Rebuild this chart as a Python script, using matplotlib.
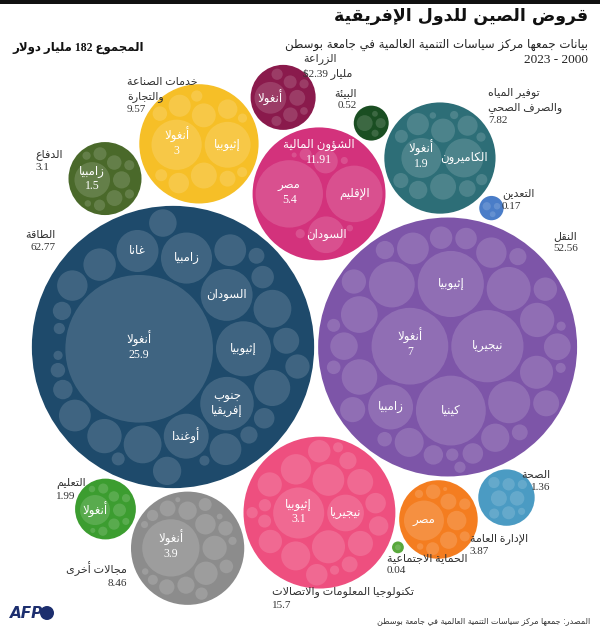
import re
import numpy as np
import matplotlib
matplotlib.use('Agg')
import matplotlib.pyplot as plt
from matplotlib.patches import Circle

# sectors (billion USD, 2000-2023)
sector_keys = ['energy', 'transport', 'ict', 'finance', 'industry', 'other', 'water',
               'gov', 'defense', 'agri', 'education', 'health', 'env', 'mining', 'social']
sector_names = ['الطاقة', 'النقل', 'تكنولوجيا المعلومات والاتصالات', 'الشؤون المالية',
                'خدمات الصناعة\nوالتجارة', 'مجالات أخرى', 'توفير المياه\nوالصرف الصحي',
                'الإدارة العامة', 'الدفاع', 'الزراعة', 'التعليم', 'الصحة', 'البيئة',
                'التعدين', 'الحماية الاجتماعية']
sector_totals = [62.77, 52.56, 15.7, 11.91, 9.57, 8.46, 7.82, 3.87, 3.1, 2.39, 1.99, 1.36,
                 0.52, 0.17, 0.04]
sector_colors = ['#1e4a6b', '#7d55a8', '#ee4f7f', '#d3327c', '#f6bf27', '#8c8c8c', '#2d6e77',
                 '#f47d20', '#4a692a', '#8a1a4c', '#3c9d30', '#4b9bc3', '#1a4e22', '#4a7dc8',
                 '#58a83c']

# countries inside each sector (labelled ones, then the small unlabelled ones)
energy_countries = ['أنغولا', 'إثيوبيا', 'جنوب\nإفريقيا', 'السودان', 'زامبيا', 'أوغندا', 'غانا']
energy_loans = [25.9, 3.6, 3.4, 3.2, 3.1, 2.4, 2.1]
energy_others = [1.7, 1.7, 1.55, 1.4, 1.25, 1.2, 1.2, 1.2, 1.1, 0.95, 0.9, 0.8, 0.7, 0.6,
                 0.5, 0.45, 0.4, 0.35, 0.3, 0.25, 0.2, 0.15, 0.12, 0.1]

transport_countries = ['أنغولا', 'نيجيريا', 'كينيا', 'إثيوبيا', 'زامبيا']
transport_loans = [7.0, 6.2, 5.8, 5.2, 2.4]
transport_others = [2.5, 2.3, 2.1, 1.6, 1.5, 1.4, 1.3, 1.2, 1.1, 1.0, 0.95, 0.9, 0.85, 0.8,
                    0.75, 0.7, 0.65, 0.6, 0.55, 0.5, 0.45, 0.4, 0.35, 0.3, 0.25, 0.22, 0.2,
                    0.18, 0.15, 0.12, 0.1]

ict_countries = ['إثيوبيا', 'نيجيريا']
ict_loans = [3.1, 1.6]
ict_others = [1.3, 1.2, 1.1, 1.0, 0.8, 0.75, 0.7, 0.65, 0.6, 0.55, 0.5, 0.45, 0.35, 0.3,
              0.2, 0.18, 0.15, 0.12, 0.1]

finance_countries = ['مصر', 'الإقليم', 'السودان']
finance_loans = [5.4, 3.8, 1.6]
finance_others = [0.7, 0.17, 0.1, 0.06, 0.05, 0.03]

industry_countries = ['أنغولا', 'إثيوبيا']
industry_loans = [3.0, 2.5]
industry_others = [0.8, 0.68, 0.58, 0.5, 0.45, 0.3, 0.25, 0.17, 0.15, 0.12, 0.1]

other_countries = ['أنغولا']
other_loans = [3.9]
other_others = [0.7, 0.65, 0.5, 0.4, 0.35, 0.3, 0.28, 0.25, 0.22, 0.2, 0.18, 0.15, 0.12,
                0.08, 0.06, 0.05, 0.04, 0.03]

water_countries = ['أنغولا', 'الكاميرون']
water_loans = [1.9, 1.8]
water_others = [0.8, 0.68, 0.58, 0.48, 0.4, 0.33, 0.27, 0.2, 0.15, 0.1, 0.08, 0.05]

gov_countries = ['مصر']
gov_loans = [1.9]
gov_others = [0.45, 0.35, 0.3, 0.25, 0.2, 0.15, 0.12, 0.08, 0.05, 0.02]

defense_countries = ['زامبيا']
defense_loans = [1.5]
defense_others = [0.35, 0.3, 0.25, 0.2, 0.15, 0.12, 0.1, 0.08, 0.05]

agri_countries = ['أنغولا']
agri_loans = [1.2]
agri_others = [0.3, 0.25, 0.2, 0.15, 0.12, 0.1, 0.07]

education_countries = ['أنغولا']
education_loans = [1.07]
education_others = [0.2, 0.15, 0.13, 0.12, 0.1, 0.08, 0.06, 0.05, 0.03]

health_others = [0.3, 0.25, 0.2, 0.18, 0.15, 0.12, 0.1, 0.06]
env_others = [0.3, 0.12, 0.06, 0.04]
mining_others = [0.08, 0.05, 0.04]
social_others = [0.04]

# first country's value printed inside the bubble for these sectors
value_shown = ['energy', 'transport', 'ict', 'finance', 'industry', 'other', 'water', 'defense']

countries = {
    'energy': (energy_countries, energy_loans, energy_others),
    'transport': (transport_countries, transport_loans, transport_others),
    'ict': (ict_countries, ict_loans, ict_others),
    'finance': (finance_countries, finance_loans, finance_others),
    'industry': (industry_countries, industry_loans, industry_others),
    'other': (other_countries, other_loans, other_others),
    'water': (water_countries, water_loans, water_others),
    'gov': (gov_countries, gov_loans, gov_others),
    'defense': (defense_countries, defense_loans, defense_others),
    'agri': (agri_countries, agri_loans, agri_others),
    'education': (education_countries, education_loans, education_others),
    'health': ([], [], health_others),
    'env': ([], [], env_others),
    'mining': ([], [], mining_others),
    'social': ([], [], social_others),
}

# ---------------------------------------------------------------------------
# arabic: matplotlib does no shaping / bidi, so join letters by hand
_FORMS = {}
for ch, base, n in [('ء', 0xFE80, 1), ('آ', 0xFE81, 2), ('أ', 0xFE83, 2), ('ؤ', 0xFE85, 2),
                    ('إ', 0xFE87, 2), ('ئ', 0xFE89, 4), ('ا', 0xFE8D, 2), ('ب', 0xFE8F, 4),
                    ('ة', 0xFE93, 2), ('ت', 0xFE95, 4), ('ث', 0xFE99, 4), ('ج', 0xFE9D, 4),
                    ('ح', 0xFEA1, 4), ('خ', 0xFEA5, 4), ('د', 0xFEA9, 2), ('ذ', 0xFEAB, 2),
                    ('ر', 0xFEAD, 2), ('ز', 0xFEAF, 2), ('س', 0xFEB1, 4), ('ش', 0xFEB5, 4),
                    ('ص', 0xFEB9, 4), ('ض', 0xFEBD, 4), ('ط', 0xFEC1, 4), ('ظ', 0xFEC5, 4),
                    ('ع', 0xFEC9, 4), ('غ', 0xFECD, 4), ('ف', 0xFED1, 4), ('ق', 0xFED5, 4),
                    ('ك', 0xFED9, 4), ('ل', 0xFEDD, 4), ('م', 0xFEE1, 4), ('ن', 0xFEE5, 4),
                    ('ه', 0xFEE9, 4), ('و', 0xFEED, 2), ('ى', 0xFEEF, 2), ('ي', 0xFEF1, 4)]:
    _FORMS[ch] = [chr(base + k) for k in range(n)]
_LAM_ALEF = {'آ': 0xFEF5, 'أ': 0xFEF7, 'إ': 0xFEF9, 'ا': 0xFEFB}


def shape(s):
    toks = []
    i = 0
    while i < len(s):
        ch = s[i]
        if ch == 'ل' and i + 1 < len(s) and s[i + 1] in _LAM_ALEF:
            b = _LAM_ALEF[s[i + 1]]
            toks.append([chr(b), chr(b + 1)])
            i += 2
            continue
        toks.append(_FORMS.get(ch, ch))
        i += 1
    out = []
    for j, t in enumerate(toks):
        if isinstance(t, str):
            out.append(t)
            continue
        prev = toks[j - 1] if j > 0 else None
        nxt = toks[j + 1] if j + 1 < len(toks) else None
        jp = len(t) >= 2 and isinstance(prev, list) and len(prev) == 4
        jn = len(t) == 4 and isinstance(nxt, list) and len(nxt) >= 2
        out.append(t[3] if jp and jn else t[1] if jp else t[2] if jn else t[0])
    return ''.join(out)


def ar(text):
    lines = []
    for line in text.split('\n'):
        parts = re.split(r'([0-9A-Za-z$][0-9A-Za-z$.,]*)', shape(line))
        lines.append(''.join(p if k % 2 else p[::-1] for k, p in reversed(list(enumerate(parts)))))
    return '\n'.join(lines)


# ---------------------------------------------------------------------------
# circle packing (same front-chain idea as d3.packSiblings)
class Node:
    def __init__(self, c):
        self.c = c
        self.next = None
        self.prev = None


def place(b, a, c):
    dx, dy = b[0] - a[0], b[1] - a[1]
    d2 = dx * dx + dy * dy
    if d2:
        a2 = (a[2] + c[2]) ** 2
        b2 = (b[2] + c[2]) ** 2
        if a2 > b2:
            x = (d2 + b2 - a2) / (2 * d2)
            y = np.sqrt(max(0, b2 / d2 - x * x))
            c[0] = b[0] - x * dx - y * dy
            c[1] = b[1] - x * dy + y * dx
        else:
            x = (d2 + a2 - b2) / (2 * d2)
            y = np.sqrt(max(0, a2 / d2 - x * x))
            c[0] = a[0] + x * dx - y * dy
            c[1] = a[1] + x * dy + y * dx
    else:
        c[0] = a[0] + c[2]
        c[1] = a[1]


def intersects(a, b):
    dr = a[2] + b[2] - 1e-6
    dx, dy = b[0] - a[0], b[1] - a[1]
    return dr > 0 and dr * dr > dx * dx + dy * dy


def score(node):
    a, b = node.c, node.next.c
    ab = a[2] + b[2]
    dx = (a[0] * b[2] + b[0] * a[2]) / ab
    dy = (a[1] * b[2] + b[1] * a[2]) / ab
    return dx * dx + dy * dy


def enclose(circles):
    pts = np.array([c[:2] for c in circles], float)
    rs = np.array([c[2] for c in circles], float)
    f = lambda p: np.max(np.hypot(pts[:, 0] - p[0], pts[:, 1] - p[1]) + rs)
    p = pts.mean(axis=0)
    best = f(p)
    step = rs.max()
    dirs = [np.array([np.cos(t), np.sin(t)]) for t in np.linspace(0, 2 * np.pi, 24, endpoint=False)]
    while step > 0.005:
        moved = False
        for d in dirs:
            q = p + step * d
            v = f(q)
            if v < best:
                p, best, moved = q, v, True
        if not moved:
            step /= 2
    return p[0], p[1], best


def pack(circles):
    n = len(circles)
    a = circles[0]
    a[0], a[1] = 0.0, 0.0
    if n == 1:
        return a[2]
    b = circles[1]
    a[0] = -b[2]
    b[0], b[1] = a[2], 0.0
    if n > 2:
        place(b, a, circles[2])
        A, B, C = Node(a), Node(b), Node(circles[2])
        A.next = B; C.prev = B
        B.next = C; A.prev = C
        C.next = A; B.prev = A
        a, b = A, B
        i = 3
        while i < n:
            c = circles[i]
            place(a.c, b.c, c)
            cn = Node(c)
            j, k, sj, sk = b.next, a.prev, b.c[2], a.c[2]
            retry = False
            while True:
                if sj <= sk:
                    if intersects(j.c, cn.c):
                        b = j; a.next = b; b.prev = a
                        retry = True
                        break
                    sj += j.c[2]; j = j.next
                else:
                    if intersects(k.c, cn.c):
                        a = k; a.next = b; b.prev = a
                        retry = True
                        break
                    sk += k.c[2]; k = k.prev
                if j is k.next:
                    break
            if retry:
                continue
            cn.prev = a; cn.next = b
            a.next = cn; b.prev = cn; b = cn
            aa = score(a)
            c2 = cn.next
            while c2 is not b:
                ca = score(c2)
                if ca < aa:
                    a, aa = c2, ca
                c2 = c2.next
            b = a.next
            i += 1
    ex, ey, er = enclose(circles)
    for c in circles:
        c[0] -= ex
        c[1] -= ey
    return er


LEAF_SCALE = 14.5   # px per sqrt(billion)
PAD = 1.5
GAP = 4.0

leaves = {}
radius = {}
for key in sector_keys:
    names, vals, rest = countries[key]
    items = [(v, nm) for v, nm in zip(vals, names)] + [(v, '') for v in rest]
    items.sort(key=lambda t: -t[0])
    circ = [[0.0, 0.0, LEAF_SCALE * np.sqrt(v) + PAD, v, nm] for v, nm in items]
    e = pack(circ)
    for c in circ:
        c[2] -= PAD
    leaves[key] = circ
    radius[key] = e + PAD

# bubbles placed tangent to two already placed ones
LAYOUT = [('ict', 'energy', 'transport', 1), ('finance', 'energy', 'transport', -1),
          ('industry', 'energy', 'finance', -1), ('agri', 'industry', 'finance', -1),
          ('defense', 'energy', 'industry', -1), ('water', 'finance', 'transport', -1),
          ('env', 'finance', 'water', -1), ('mining', 'water', 'transport', -1),
          ('gov', 'transport', 'ict', -1), ('health', 'transport', 'gov', -1),
          ('social', 'ict', 'gov', 1), ('other', 'energy', 'ict', 1),
          ('education', 'energy', 'other', 1)]

centre = {'energy': (173.0, 347.0)}
centre['transport'] = (173.0 + radius['energy'] + radius['transport'] + GAP, 347.0)
for key, ka, kb, side in LAYOUT:
    (xa, ya), (xb, yb) = centre[ka], centre[kb]
    da = radius[ka] + radius[key] + GAP
    db = radius[kb] + radius[key] + GAP
    dx, dy = xb - xa, yb - ya
    d = np.hypot(dx, dy)
    aa = (da ** 2 - db ** 2 + d ** 2) / (2 * d)
    h = np.sqrt(max(da ** 2 - aa ** 2, 0))
    ux, uy = dx / d, dy / d
    centre[key] = (xa + aa * ux - side * h * uy, ya + aa * uy + side * h * ux)

LABEL_POS = {
    'energy': (56, 231, 'right'), 'transport': (553, 231, 'left'), 'ict': (272, 587, 'left'),
    'industry': (127, 78, 'left'), 'agri': (303, 53, 'left'), 'defense': (35, 149, 'left'),
    'water': (488, 87, 'left'), 'env': (357, 88, 'right'), 'mining': (502, 188, 'left'),
    'gov': (470, 533, 'left'), 'health': (550, 471, 'right'), 'social': (387, 553, 'left'),
    'other': (127, 561, 'right'), 'education': (56, 478, 'left'),
}
MIX = ['Liberation Serif', 'DejaVu Sans']

fig = plt.figure(figsize=(6, 6.3), dpi=100)
ax = fig.add_axes([0, 0, 1, 1])
ax.set_xlim(0, 600)
ax.set_ylim(630, 0)
ax.set_aspect('equal')
ax.axis('off')
ax.axhspan(0, 4, color='#111111', lw=0)

for key, name, total, col in zip(sector_keys, sector_names, sector_totals, sector_colors):
    cx, cy = centre[key]
    R = radius[key]
    ax.add_patch(Circle((cx, cy), R, fc=col, ec='none', zorder=1))
    for x, y, r, v, nm in leaves[key]:
        ax.add_patch(Circle((cx + x, cy + y), r, fc='white', alpha=0.15, ec='none', zorder=2))
    for x, y, r, v, nm in leaves[key]:
        if not nm:
            continue
        first = nm == countries[key][0][0]
        if first and key in value_shown:
            ax.text(cx + x, cy + y - 2, ar(nm), color='white', fontsize=8.5, family=MIX,
                    ha='center', va='bottom', zorder=3)
            ax.text(cx + x, cy + y, f'{v:g}', color='white', fontsize=8.5, family=MIX,
                    ha='center', va='top', zorder=3)
        else:
            ax.text(cx + x, cy + y, ar(nm), color='white', fontsize=8.5, family=MIX,
                    ha='center', va='center', multialignment='center', zorder=3)
    value = f'{total:g}'
    if key == 'agri':
        value = 'مليار $' + value
    if key == 'finance':
        ax.text(cx, cy - 0.82 * R, ar(name) + '\n' + ar(value), color='white', fontsize=8.5,
                family=MIX, ha='center', va='top', multialignment='center',
                linespacing=1.25, zorder=4)
        continue
    lx, ly, ha = LABEL_POS[key]
    ax.text(lx, ly, ar(name) + '\n' + ar(value), color='#333333', fontsize=8, family=MIX,
            ha=ha, va='top', multialignment=ha, linespacing=1.45, zorder=4)

ax.text(588, 7, ar('قروض الصين للدول الإفريقية'), fontsize=12.5, fontweight='bold',
        family='DejaVu Sans', ha='right', va='top', color='#111111')
ax.text(588, 38, ar('بيانات جمعها مركز سياسات التنمية العالمية في جامعة بوسطن'),
        fontsize=8.5, family='DejaVu Sans', ha='right', va='top', color='#222222')
ax.text(588, 54, ar('2000 - 2023'), fontsize=9.5, family=MIX, ha='right', va='top',
        color='#222222')
ax.text(12, 42, ar('المجموع 182 مليار دولار'), fontsize=8.5, fontweight='bold', family=MIX,
        ha='left', va='top', color='#111111')
ax.text(590, 621, ar('المصدر: جمعها مركز سياسات التنمية العالمية في جامعة بوسطن'),
        fontsize=5.8, family='DejaVu Sans', ha='right', va='center', color='#333333')
ax.text(10, 613, 'AFP', fontsize=11, fontweight='bold', fontstyle='italic',
        family='DejaVu Sans', ha='left', va='center', color='#1c2e6e')
ax.add_patch(Circle((47, 613), 7, fc='#1c2e6e', ec='none'))

fig.savefig('out.png', dpi=100)
